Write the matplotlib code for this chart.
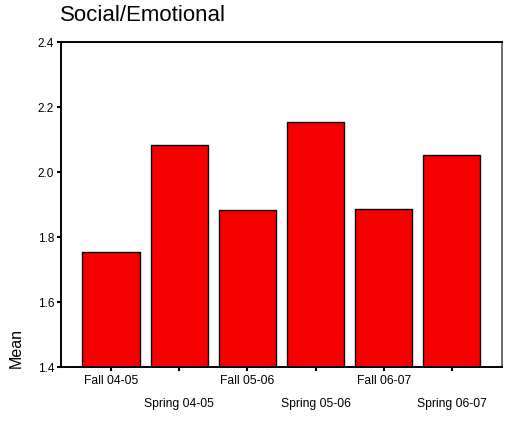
import matplotlib
matplotlib.use('Agg')
import matplotlib.pyplot as plt
import numpy as np

plt.rcParams['font.family'] = ['Liberation Sans', 'DejaVu Sans']

categories = ['Fall 04-05', 'Spring 04-05', 'Fall 05-06', 'Spring 05-06', 'Fall 06-07', 'Spring 06-07']
means = [1.755, 2.083, 1.884, 2.154, 1.887, 2.052]
y_ticks = [1.4, 1.6, 1.8, 2.0, 2.2, 2.4]

fig = plt.figure(figsize=(5.06, 4.21), dpi=100)
ax = fig.add_axes([0.1206, 0.128, 0.8714, 0.772])

x = np.arange(len(categories))
ax.bar(x, means, width=0.84, color='#F50000', edgecolor='black', linewidth=1.0, bottom=0)

ax.set_xlim(-0.735, 5.735)
ax.set_ylim(1.4, 2.4)
ax.set_yticks(y_ticks)
ax.set_yticklabels(['%.1f' % v for v in y_ticks], fontsize=8.5)
ax.set_xticks(x)
labels = [c if i % 2 == 0 else '\n\n' + c for i, c in enumerate(categories)]
ax.set_xticklabels(labels, fontsize=8.7, linespacing=0.9)
ax.tick_params(axis='both', direction='out', length=3, width=1.5, pad=2)
ax.tick_params(axis='x', pad=3)

for s in ['left', 'bottom', 'top']:
    ax.spines[s].set_linewidth(1.4)
    ax.spines[s].set_color('black')
ax.spines['right'].set_linewidth(1.2)
ax.spines['right'].set_color('#555555')

fig.text(0.118, 0.962, 'Social/Emotional', fontsize=16, ha='left', va='center')
fig.text(0.032, 1 - 368 / 421, 'Mean', fontsize=11.5, rotation=90, ha='center', va='bottom')

fig.savefig('out.png', dpi=100)
